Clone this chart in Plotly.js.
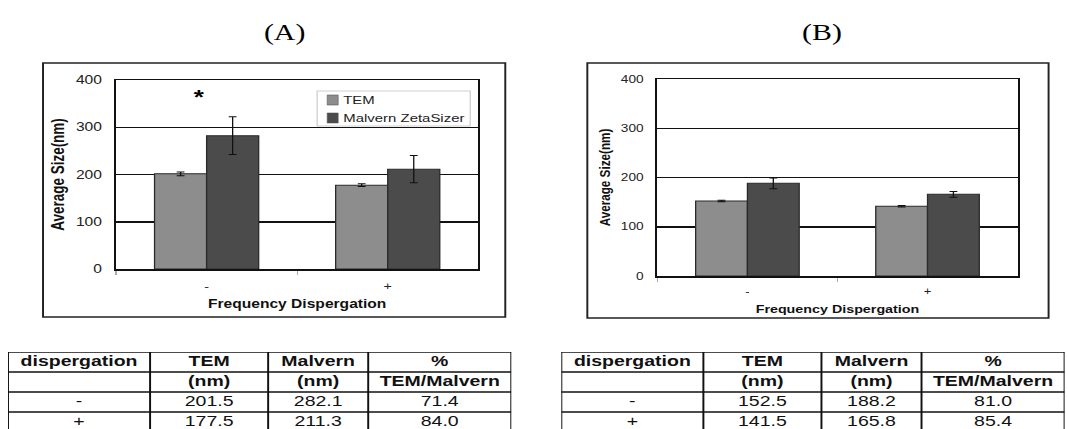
<!DOCTYPE html>
<html>
<head>
<meta charset="utf-8">
<script src="https://cdn.plot.ly/plotly-3.0.1.min.js"></script>
<style>
  html, body { margin: 0; padding: 0; background: #fff; overflow: hidden; }
  #fig { transform-origin: 0 0; }
</style>
</head>
<body>
<div id="fig"></div>
<script>
// Particle size by dispergation: TEM vs Malvern ZetaSizer, two sample sets (A) and (B)
const categories = ['-', '+'];
const seriesNames = ['TEM', 'Malvern ZetaSizer'];

const temA = [201.5, 177.5];
const malvernA = [282.1, 211.3];
const temErrA = [4, 3];
const malvernErrA = [40, 29];
const ratioA = ['71.4', '84.0'];

const temB = [152.5, 141.5];
const malvernB = [188.2, 165.8];
const temErrB = [1.5, 1.5];
const malvernErrB = [11, 6];
const ratioB = ['81.0', '85.4'];

const headerLabels = ['dispergation', 'TEM', 'Malvern', '%'];
const unitLabels = ['', '(nm)', '(nm)', 'TEM/Malvern'];

// The figure is laid out narrow and widened horizontally, giving the wide lettering
const S = 1.3;
const FULL_W = 1068, FULL_H = 429;
const W = FULL_W / S;
const fx = px => px / FULL_W;
const fy = py => (FULL_H - py) / FULL_H;

const TEM_COLOR = '#8d8d8d';
const MAL_COLOR = '#4b4b4b';
const SANS = 'Liberation Sans, Arial, sans-serif';
const SERIF = 'Liberation Serif, Times New Roman, serif';

// table geometry: column widths and row height, in table units
const colWidths = [142, 118, 100, 143];
const ROW_PX = 20;
const TABLE_TOP = 352;
const colEdges = colWidths.reduce((acc, w) => acc.concat(acc[acc.length - 1] + w), [0]);
const colMids = colWidths.map((w, i) => colEdges[i] + w / 2);

function barTrace(name, y, err, color, xa, ya) {
  return {
    type: 'bar', name: name, x: categories, y: y,
    xaxis: xa, yaxis: ya, showlegend: false,
    marker: { color: color, line: { color: '#2a2a2a', width: 1 } },
    error_y: { type: 'data', array: err, visible: true, color: '#111', thickness: 1, width: 3 }
  };
}

// one text mark per table cell, rows counted downward from the header
function tableText(tem, mal, ratio, xa, ya) {
  const rows = [
    headerLabels.map(h => '<b>' + h + '</b>'),
    unitLabels.map(u => u ? '<b>' + u + '</b>' : ''),
  ];
  categories.forEach((c, i) => {
    rows.push([c, tem[i].toFixed(1), mal[i].toFixed(1), ratio[i]]);
  });
  const xs = [], ys = [], txt = [];
  rows.forEach((r, ri) => r.forEach((t, ci) => {
    xs.push(colMids[ci]); ys.push(ri + 0.5); txt.push(t);
  }));
  return {
    type: 'scatter', mode: 'text', x: xs, y: ys, text: txt,
    xaxis: xa, yaxis: ya, showlegend: false, cliponaxis: false,
    textposition: 'middle center',
    textfont: { family: SANS, size: 15, color: '#111' }
  };
}

function tableGrid(xref, yref, nRows) {
  const line = { color: '#111', width: 1.5 };
  const out = [];
  for (let r = 0; r <= nRows; r++) {
    out.push({ type: 'line', xref: xref, yref: yref, x0: 0, x1: colEdges[colEdges.length - 1],
               y0: r, y1: r, line: line });
  }
  colEdges.forEach(e => out.push({ type: 'line', xref: xref, yref: yref, x0: e, x1: e,
                                   y0: 0, y1: nRows, line: line }));
  return out;
}

const nTableRows = 2 + categories.length;

const data = [
  barTrace(seriesNames[0], temA, temErrA, TEM_COLOR, 'x', 'y'),
  barTrace(seriesNames[1], malvernA, malvernErrA, MAL_COLOR, 'x', 'y'),
  barTrace(seriesNames[0], temB, temErrB, TEM_COLOR, 'x2', 'y2'),
  barTrace(seriesNames[1], malvernB, malvernErrB, MAL_COLOR, 'x2', 'y2'),
  tableText(temA, malvernA, ratioA, 'x3', 'y3'),
  tableText(temB, malvernB, ratioB, 'x4', 'y4')
];

function xAxis(domain, tickSize, titleSize, standoff) {
  return {
    domain: domain, type: 'category', categoryorder: 'array', categoryarray: categories,
    showgrid: false, zeroline: false,
    showline: true, linecolor: '#111', linewidth: 1.5, mirror: true,
    ticks: 'outside', tickson: 'boundaries', ticklen: 4, tickcolor: '#aaa', tickwidth: 1,
    ticklabelstandoff: 6,
    tickfont: { family: SANS, size: tickSize, color: '#222' },
    title: { text: '<b>Frequency Dispergation</b>', standoff: standoff,
             font: { family: SANS, size: titleSize, color: '#111' } },
    fixedrange: true
  };
}

function yAxis(domain, anchor, tickSize, titleSize) {
  return {
    domain: domain, anchor: anchor, range: [0, 400], dtick: 100,
    showgrid: true, gridcolor: '#111', gridwidth: 1.5,
    zeroline: false,
    showline: true, linecolor: '#111', linewidth: 1.5, mirror: true,
    ticks: '', ticklabelstandoff: 7,
    tickfont: { family: SANS, size: tickSize, color: '#222' },
    title: { text: '<b>Average Size(nm)</b>', standoff: 5,
             font: { family: SANS, size: titleSize, color: '#111' } },
    fixedrange: true
  };
}

function tableAxes(x0, x1, anchor) {
  const rowsVisible = (FULL_H - TABLE_TOP) / ROW_PX;
  return [
    { domain: [fx(x0), fx(x1)], range: [0, colEdges[colEdges.length - 1]], visible: false,
      anchor: anchor[1], fixedrange: true },
    { domain: [0, fy(TABLE_TOP)], range: [rowsVisible, 0], visible: false,
      anchor: anchor[0], fixedrange: true }
  ];
}

const [xa3, ya3] = tableAxes(8, 511, ['x3', 'y3']);
const [xa4, ya4] = tableAxes(561, 1064, ['x4', 'y4']);

// legend box drawn as a keyed label pair
const legendBox = { x0: 317, x1: 470, y0: 91, y1: 126 };
const legendRows = [100, 118];
const legendShapes = [
  { type: 'rect', xref: 'paper', yref: 'paper', x0: fx(legendBox.x0), x1: fx(legendBox.x1),
    y0: fy(legendBox.y1), y1: fy(legendBox.y0), line: { color: '#cfcfcf', width: 1 }, fillcolor: '#fff' }
].concat([TEM_COLOR, MAL_COLOR].map((c, i) => ({
  type: 'rect', xref: 'paper', yref: 'paper', x0: fx(327), x1: fx(338),
  y0: fy(legendRows[i] + 5), y1: fy(legendRows[i] - 5), line: { color: '#555', width: 0.5 }, fillcolor: c
})));
const legendLabels = seriesNames.map((n, i) => ({
  text: n, xref: 'paper', yref: 'paper', x: fx(341), y: fy(legendRows[i]),
  xanchor: 'left', yanchor: 'middle', showarrow: false,
  font: { family: SANS, size: 11.5, color: '#222' }
}));

const layout = {
  width: W, height: FULL_H,
  margin: { l: 0, r: 0, t: 0, b: 0 },
  paper_bgcolor: '#fff', plot_bgcolor: '#fff',
  barmode: 'group', bargap: 0.425, bargroupgap: 0,
  showlegend: false,
  xaxis: xAxis([fx(116), fx(478)], 11, 12, 9),
  yaxis: yAxis([fy(269), fy(80)], 'x', 12, 13.5),
  xaxis2: Object.assign(xAxis([fx(657), fx(1017)], 10, 11, 9), { anchor: 'y2' }),
  yaxis2: yAxis([fy(276), fy(79)], 'x2', 10.5, 11.7),
  xaxis3: xa3, yaxis3: ya3, xaxis4: xa4, yaxis4: ya4,
  shapes: [
    { type: 'rect', xref: 'paper', yref: 'paper', x0: fx(43), x1: fx(505), y0: fy(317), y1: fy(63),
      line: { color: '#222', width: 1.5 }, fillcolor: 'rgba(0,0,0,0)', layer: 'below' },
    { type: 'rect', xref: 'paper', yref: 'paper', x0: fx(587), x1: fx(1048), y0: fy(318), y1: fy(63),
      line: { color: '#222', width: 1.5 }, fillcolor: 'rgba(0,0,0,0)', layer: 'below' }
  ].concat(legendShapes, tableGrid('x3', 'y3', nTableRows), tableGrid('x4', 'y4', nTableRows)),
  annotations: [
    { text: '(A)', xref: 'paper', yref: 'paper', x: fx(284), y: fy(33),
      xanchor: 'center', yanchor: 'middle', showarrow: false,
      font: { family: SERIF, size: 23, color: '#000' } },
    { text: '(B)', xref: 'paper', yref: 'paper', x: fx(822), y: fy(33),
      xanchor: 'center', yanchor: 'middle', showarrow: false,
      font: { family: SERIF, size: 23, color: '#000' } },
    { text: '<b>*</b>', xref: 'x', yref: 'y', x: categories[0], y: 364, xshift: -6,
      xanchor: 'center', yanchor: 'middle', showarrow: false,
      font: { family: SANS, size: 20, color: '#000' } }
  ].concat(legendLabels)
};

const el = document.getElementById('fig');
el.style.width = W + 'px';
el.style.height = FULL_H + 'px';
el.style.transform = 'scaleX(' + S + ')';
Plotly.newPlot(el, data, layout, { displayModeBar: false, staticPlot: true });
</script>
</body>
</html>
